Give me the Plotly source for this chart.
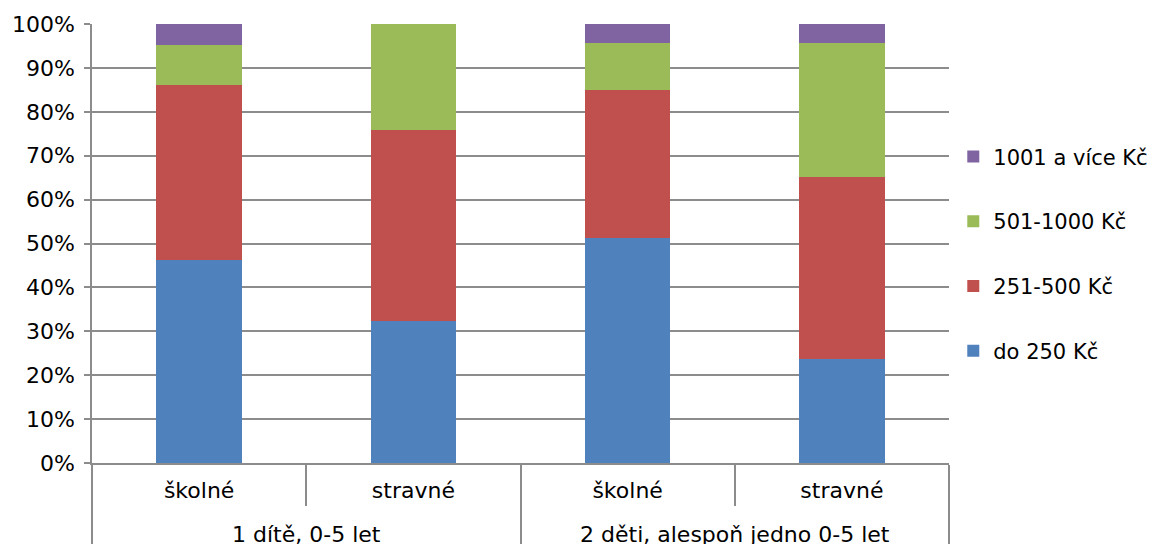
import plotly.graph_objects as go

groups = ["1 dítě, 0-5 let", "1 dítě, 0-5 let",
          "2 děti, alespoň jedno 0-5 let", "2 děti, alespoň jedno 0-5 let"]
items = ["školné", "stravné", "školné", "stravné"]

series_names = ["do 250 Kč", "251-500 Kč", "501-1000 Kč", "1001 a více Kč"]
do250 = [46.2, 32.4, 51.3, 23.8]
s251_500 = [39.9, 43.4, 33.6, 41.4]
s501_1000 = [9.2, 24.2, 10.7, 30.5]
s1001 = [4.7, 0.0, 4.4, 4.3]
colors = ["#4F81BD", "#C0504D", "#9BBB59", "#8064A2"]

y_ticks = [0, 10, 20, 30, 40, 50, 60, 70, 80, 90, 100]
y_labels = [f"{v}%" for v in y_ticks]

FONT = "DejaVu Sans"
grid = "#8c8c8c"

# spacer line under inner labels so the outer group labels sit lower (as in the reference)
SPACER = "<br><span style='font-size:2px'>&nbsp;</span>"
item_labels = [s + SPACER for s in items]

fig = go.Figure()
series = [do250, s251_500, s501_1000, s1001]
for i, (name, vals, col) in enumerate(zip(series_names, series, colors)):
    fig.add_trace(go.Bar(
        x=[groups, item_labels], y=vals, name=name, legendgroup=name,
        legendrank=len(series) - i,
        marker=dict(color=col, line=dict(width=0)),
    ))

fig.update_layout(
    barmode="stack",
    bargap=0.6,
    width=1147, height=536,
    margin=dict(l=84, r=206, t=16, b=80.5, autoexpand=False),
    plot_bgcolor="white", paper_bgcolor="white",
    font=dict(family=FONT, size=22, color="#000000"),
    legend=dict(
        x=1.005, xanchor="left", y=0.4767, yanchor="middle",
        traceorder="grouped", tracegroupgap=34.5,
        font=dict(family=FONT, size=21, color="#000000"),
        bgcolor="rgba(0,0,0,0)",
    ),
    showlegend=True,
)
fig.update_yaxes(
    range=[0, 100], tickvals=y_ticks, ticktext=y_labels,
    showgrid=True, gridcolor=grid, gridwidth=1.5,
    showline=True, linecolor=grid, linewidth=1.5,
    ticks="outside", ticklen=6, tickcolor=grid, tickwidth=1.5,
    ticklabelstandoff=5,
    zeroline=False, fixedrange=True,
)
fig.update_xaxes(
    showline=True, linecolor=grid, linewidth=1.5,
    ticks="outside", tickson="boundaries", ticklen=41, tickcolor=grid, tickwidth=1.5,
    ticklabelstandoff=7,
    showdividers=True, dividercolor=grid, dividerwidth=1.5,
    showgrid=False, fixedrange=True,
)

fig.write_html("out.html")
